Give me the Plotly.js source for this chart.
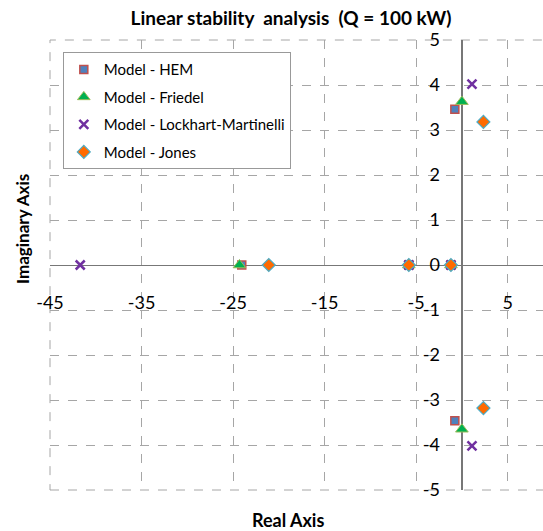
<!DOCTYPE html>
<html>
<head>
<meta charset="utf-8">
<script src="https://cdn.plot.ly/plotly-3.0.1.min.js"></script>
<style>html,body{margin:0;padding:0;background:#fff;overflow:hidden;}</style>
</head>
<body>
<div id="chart" style="width:543px;height:531px;"></div>
<script>
// Data (real part, imaginary part of eigenvalues)
const hemReal = [-0.77, -0.77, -24.05, -5.8, -1.2];
const hemImag = [3.46, -3.46, 0, 0, 0];
const friedelReal = [0, 0, -24.3, -5.8, -1.2];
const friedelImag = [3.63, -3.65, 0, 0, 0];
const lmReal = [1.1, 1.1, -41.7, -5.8, -1.2];
const lmImag = [4.02, -4.02, 0, 0, 0];
const jonesReal = [2.35, 2.35, -21.1, -5.8, -1.2];
const jonesImag = [3.18, -3.18, 0, 0, 0];

const seriesNames = ["Model - HEM", "Model - Friedel", "Model - Lockhart-Martinelli", "Model - Jones"];
const xTickVals = [-45, -35, -25, -15, -5, 5];
const xTickText = ["-45", "-35", "-25", "-15", "-5", "5"];
const yTickVals = [-5, -4, -3, -2, -1, 0, 1, 2, 3, 4, 5];
const yTickText = ["-5", "-4", "-3", "-2", "-1", "0", "1", "2", "3", "4", "5"];

const FONT = "Lato, 'Open Sans', sans-serif";

const traces = [
  {x: hemReal, y: hemImag, name: seriesNames[0], legendgroup: "a", type: "scatter", mode: "markers",
   marker: {symbol: "square", size: 8, color: "#4F81BD", line: {color: "#C0504D", width: 1.5}}},
  {x: friedelReal, y: friedelImag, name: seriesNames[1], legendgroup: "b", type: "scatter", mode: "markers",
   marker: {symbol: "triangle-up", size: 11, color: "#00B050", line: {color: "#9BBB59", width: 1}}},
  {x: lmReal, y: lmImag, name: seriesNames[2], legendgroup: "c", type: "scatter", mode: "markers",
   marker: {symbol: "x-thin", size: 9, color: "#7030A0", line: {color: "#7030A0", width: 2.5}}},
  {x: jonesReal, y: jonesImag, name: seriesNames[3], legendgroup: "d", type: "scatter", mode: "markers",
   marker: {symbol: "diamond", size: 10, color: "#FF6A00", line: {color: "#4BACC6", width: 1.2}}}
];

const layout = {
  width: 543, height: 531,
  margin: {l: 50, r: 0, t: 40, b: 41},
  paper_bgcolor: "#fff", plot_bgcolor: "#fff",
  font: {family: FONT, color: "#000"},
  title: {text: "<b>Linear stability  analysis  (Q = 100 kW)</b>", font: {size: 19, family: FONT},
          x: 0.536, xref: "container", y: 0.966, yref: "container", xanchor: "center", yanchor: "middle"},
  xaxis: {range: [-45, 8.86], tickvals: xTickVals, ticktext: xTickText, showgrid: true,
          gridcolor: "#a6a6a6", griddash: "dash", gridwidth: 1,
          zeroline: true, zerolinecolor: "#777", zerolinewidth: 2,
          showline: false, ticks: "", tickfont: {size: 18, family: FONT},
          anchor: "free", position: 0.5, ticklabelstandoff: 25, fixedrange: true},
  yaxis: {range: [-5, 5], tickvals: yTickVals, ticktext: yTickText, showgrid: true,
          gridcolor: "#a6a6a6", griddash: "dash", gridwidth: 1,
          zeroline: true, zerolinecolor: "#777", zerolinewidth: 1,
          showline: false, ticks: "", tickfont: {size: 18, family: FONT},
          anchor: "free", position: 45 / 53.86, ticklabelstandoff: 22, fixedrange: true},
  showlegend: true,
  legend: {x: 0.026, y: 0.973, xanchor: "left", yanchor: "top", bgcolor: "#fff",
           bordercolor: "#999", borderwidth: 1, font: {size: 15, family: FONT},
           tracegroupgap: 5, entrywidth: 247},
  annotations: [
    {text: "<b>Imaginary Axis</b>", xref: "paper", yref: "paper", x: -0.0568, y: 0.58,
     textangle: -90, showarrow: false, font: {size: 17, family: FONT}, xanchor: "center", yanchor: "middle"},
    {text: "<b>Real Axis</b>", xref: "paper", yref: "paper", x: 0.4828, y: -0.0667,
     showarrow: false, font: {size: 18, family: FONT}, xanchor: "center", yanchor: "middle"}
  ],
  shapes: [
    {type: "rect", xref: "paper", yref: "paper", x0: 0, x1: 1.01, y0: 0, y1: 1,
     line: {color: "#a6a6a6", width: 1, dash: "dash"}, fillcolor: "rgba(0,0,0,0)", layer: "below"}
  ]
};

Plotly.newPlot("chart", traces, layout, {displayModeBar: false, staticPlot: true});
</script>
</body>
</html>
